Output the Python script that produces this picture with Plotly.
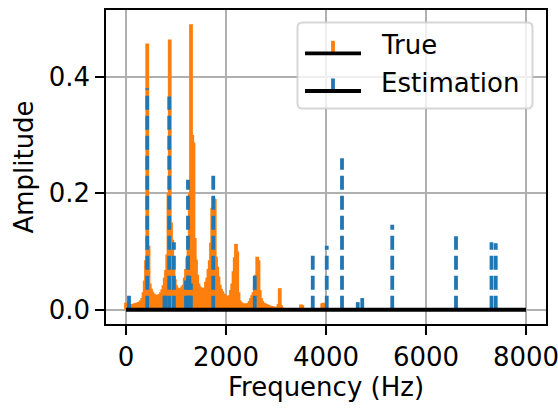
import plotly.graph_objects as go

# ---------------- data ----------------
true_freq = [
    0, 25, 50, 75, 100, 125, 150, 175, 200, 225, 250, 275, 300, 325, 350, 375,
    400, 425, 450, 475, 500, 525, 550, 575, 600, 625, 650, 675, 700, 725, 750, 775,
    800, 825, 850, 875, 900, 925, 950, 975, 1000, 1025, 1050, 1075, 1100, 1125, 1150, 1175,
    1200, 1225, 1250, 1275, 1300, 1325, 1350, 1375, 1400, 1425, 1450, 1475, 1500, 1525, 1550, 1575,
    1600, 1625, 1650, 1675, 1700, 1725, 1750, 1775, 1800, 1825, 1850, 1875, 1900, 1925, 1950, 1975,
    2000, 2025, 2050, 2075, 2100, 2125, 2150, 2175, 2200, 2225, 2250, 2275, 2300, 2325, 2350, 2375,
    2400, 2425, 2450, 2475, 2500, 2525, 2550, 2575, 2600, 2625, 2650, 2675, 2700, 2725, 2750, 2775,
    2800, 2825, 2850, 2875, 2900, 2925, 2950, 2975, 3000, 3025, 3050, 3075, 3100, 3125, 3150, 3175,
    3200, 3500, 3525, 3925, 3950, 4500, 6000, 8000,
]
true_amp = [
    0.012, 0.010, 0.009, 0.009, 0.009, 0.010, 0.010, 0.011, 0.011, 0.012, 0.013, 0.014, 0.016, 0.020, 0.030, 0.050,
    0.085, 0.457, 0.110, 0.045, 0.036, 0.031, 0.028, 0.026, 0.025, 0.025, 0.026, 0.027, 0.030, 0.035, 0.042, 0.055,
    0.068, 0.095, 0.200, 0.464, 0.150, 0.120, 0.069, 0.052, 0.042, 0.038, 0.036, 0.036, 0.037, 0.040, 0.043, 0.055,
    0.070, 0.090, 0.120, 0.200, 0.490, 0.300, 0.287, 0.123, 0.086, 0.060, 0.045, 0.040, 0.038, 0.036, 0.036, 0.038,
    0.048, 0.055, 0.070, 0.085, 0.115, 0.175, 0.192, 0.190, 0.091, 0.074, 0.057, 0.043, 0.036, 0.032, 0.028, 0.026,
    0.024, 0.023, 0.023, 0.025, 0.034, 0.045, 0.066, 0.090, 0.113, 0.100, 0.030, 0.016, 0.013, 0.011, 0.011, 0.010,
    0.010, 0.011, 0.012, 0.015, 0.020, 0.025, 0.030, 0.040, 0.060, 0.091, 0.085, 0.034, 0.020, 0.015, 0.012, 0.011,
    0.010, 0.009, 0.008, 0.007, 0.006, 0.006, 0.005, 0.005, 0.005, 0.005, 0.010, 0.037, 0.008, 0.004, 0.003, 0.003,
    0.002, 0.009, 0.008, 0.011, 0.012, 0.002, 0.001, 0.000,
]

est_freq = [60, 425, 770, 795, 865, 958, 1200, 1240, 1268, 1298, 1745, 2575,
            3735, 4015, 4320, 4635, 4725, 5325, 6600, 7310, 7395]
est_amp = [0.026, 0.380, 0.027, 0.027, 0.366, 0.116, 0.050, 0.223, 0.060, 0.045, 0.230, 0.060,
           0.097, 0.110, 0.260, 0.013, 0.020, 0.146, 0.126, 0.116, 0.114]

x_ticks = [0, 2000, 4000, 6000, 8000]
y_ticks = [0.0, 0.2, 0.4]
y_tick_text = ["0.0", "0.2", "0.4"]
legend_labels = ["True", "Estimation"]

# ---------------- style ----------------
FONT = "DejaVu Sans"
FS = 26
ORANGE = "#ff7f0e"
BLUE = "#1f77b4"
LW = 3.8


def stems(freqs, amps):
    xs, ys = [], []
    for f, a in zip(freqs, amps):
        xs += [f, f, None]
        ys += [0, a, None]
    return xs, ys


fig = go.Figure()
xs, ys = stems(true_freq, true_amp)
fig.add_trace(go.Scatter(x=xs, y=ys, mode="lines", line=dict(color=ORANGE, width=LW),
                         hoverinfo="skip", showlegend=False))
xs, ys = stems(est_freq, est_amp)
fig.add_trace(go.Scatter(x=xs, y=ys, mode="lines",
                         line=dict(color=BLUE, width=LW, dash="14px,6px"),
                         hoverinfo="skip", showlegend=False))
fig.add_trace(go.Scatter(x=[min(true_freq), max(true_freq)], y=[0, 0], mode="lines",
                         line=dict(color="black", width=LW), hoverinfo="skip", showlegend=False))

# plot area in pixels
L, T, W, H = 106, 10, 440, 314


def px(x):
    return (x - L) / W


def py(y):
    return (T + H - y) / H


# legend box (rounded)
bx0, bx1, by0, by1, r = 297.5, 532.5, 22.5, 108.5, 5
path = (f"M {px(bx0 + r)},{py(by0)} L {px(bx1 - r)},{py(by0)} Q {px(bx1)},{py(by0)} {px(bx1)},{py(by0 + r)} "
        f"L {px(bx1)},{py(by1 - r)} Q {px(bx1)},{py(by1)} {px(bx1 - r)},{py(by1)} "
        f"L {px(bx0 + r)},{py(by1)} Q {px(bx0)},{py(by1)} {px(bx0)},{py(by1 - r)} "
        f"L {px(bx0)},{py(by0 + r)} Q {px(bx0)},{py(by0)} {px(bx0 + r)},{py(by0)} Z")
shapes = [dict(type="path", path=path, xref="paper", yref="paper", layer="above",
               fillcolor="rgba(255,255,255,0.8)", line=dict(color="rgba(204,204,204,0.8)", width=2))]
rows = [(53.3, ORANGE), (91.0, BLUE)]
for yb, col in rows:
    shapes.append(dict(type="line", xref="paper", yref="paper", layer="above",
                       x0=px(333), x1=px(333), y0=py(yb), y1=py(yb - 12.5),
                       line=dict(color=col, width=LW)))
    shapes.append(dict(type="line", xref="paper", yref="paper", layer="above",
                       x0=px(305), x1=px(361), y0=py(yb), y1=py(yb),
                       line=dict(color="black", width=LW)))

annotations = []
for lab, yc in zip(legend_labels, [45.0, 82.5]):
    annotations.append(dict(text=lab, xref="paper", yref="paper", x=px(379), y=py(yc),
                            xanchor="left", yanchor="middle", showarrow=False,
                            font=dict(family=FONT, size=FS, color="black")))

axis_common = dict(showline=True, linecolor="black", linewidth=2, mirror=True,
                   ticks="outside", ticklen=8.75, tickwidth=2, tickcolor="black",
                   showgrid=True, gridcolor="#b0b0b0", gridwidth=2, zeroline=False,
                   automargin=False, ticklabeloverflow="allow",
                   tickfont=dict(family=FONT, size=FS, color="black"))

fig.update_layout(
    width=558, height=408,
    margin=dict(l=L, r=558 - L - W, t=T, b=408 - T - H),
    paper_bgcolor="white", plot_bgcolor="white",
    font=dict(family=FONT, size=FS, color="black"),
    xaxis=dict(range=[-400, 8400], tickvals=x_ticks, ticktext=[str(v) for v in x_ticks],
               title=dict(text="Frequency (Hz)", font=dict(family=FONT, size=FS, color="black"),
                          standoff=6),
               **axis_common),
    yaxis=dict(range=[-0.0245, 0.5145], tickvals=y_ticks, ticktext=y_tick_text,
               title=dict(text="Amplitude", font=dict(family=FONT, size=FS, color="black"),
                          standoff=8),
               **axis_common),
    shapes=shapes,
    annotations=annotations,
    showlegend=False,
)

fig.write_html("out.html")
